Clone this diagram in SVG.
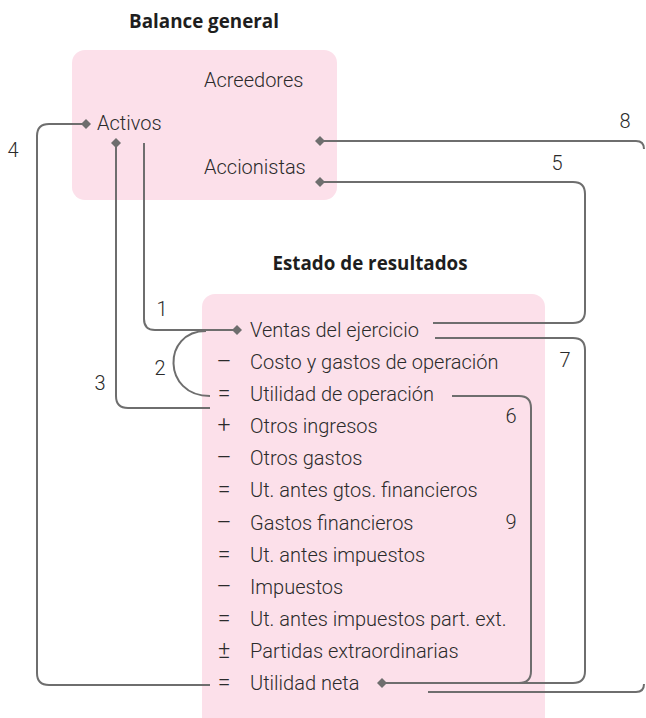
<svg xmlns="http://www.w3.org/2000/svg" width="646" height="718" viewBox="0 0 646 718">
<style>
.box{fill:#fce0ea}
.t{font-family:Roboto,"Liberation Sans",sans-serif;font-weight:300;font-size:20px;fill:#2b2b2b}
.h{font-family:"Open Sans","Liberation Sans",sans-serif;font-weight:700;font-size:18.8px;fill:#1e1e1e}
.op{text-anchor:middle;font-size:23px}
.c{fill:none;stroke:#6e6e6e;stroke-width:2}
.d{fill:#6e6e6e}
</style>
<defs>
<path id="dm" d="M0,-5 L5,0 L0,5 L-5,0 Z"/>
</defs>
<rect width="646" height="718" fill="#fff"/>
<g id="balance">
<text class="h" x="204" y="28" text-anchor="middle">Balance general</text>
<rect class="box" x="72" y="50" width="265" height="150" rx="13"/>
<text class="t" x="204" y="87">Acreedores</text>
<text class="t" x="97" y="130">Activos</text>
<text class="t" x="204" y="174">Accionistas</text>
</g>
<g id="resultados">
<text class="h" x="370" y="270" text-anchor="middle">Estado de resultados</text>
<rect class="box" x="202" y="294" width="343" height="436" rx="13"/>
<text class="t" x="250" y="337">Ventas del ejercicio</text>
<text class="t op" x="224" y="369">–</text><text class="t" x="250" y="369">Costo y gastos de operación</text>
<text class="t op" x="224" y="401">=</text><text class="t" x="250" y="401">Utilidad de operación</text>
<text class="t op" x="224" y="433">+</text><text class="t" x="250" y="433">Otros ingresos</text>
<text class="t op" x="224" y="465">–</text><text class="t" x="250" y="465">Otros gastos</text>
<text class="t op" x="224" y="497">=</text><text class="t" x="250" y="497">Ut. antes gtos. financieros</text>
<text class="t op" x="224" y="530">–</text><text class="t" x="250" y="530">Gastos financieros</text>
<text class="t op" x="224" y="562">=</text><text class="t" x="250" y="562">Ut. antes impuestos</text>
<text class="t op" x="224" y="594">–</text><text class="t" x="250" y="594">Impuestos</text>
<text class="t op" x="224" y="626">=</text><text class="t" x="250" y="626">Ut. antes impuestos part. ext.</text>
<text class="t op" x="224" y="658">±</text><text class="t" x="250" y="658">Partidas extraordinarias</text>
<text class="t op" x="224" y="690">=</text><text class="t" x="250" y="690">Utilidad neta</text>
</g>
<g id="connectors">
<path class="c" d="M86,124 H49 Q37,124 37,136 V673 Q37,685 49,685 H210"/>
<path class="c" d="M116,143 V396 Q116,408 128,408 H210"/>
<path class="c" d="M144,143 V319 Q144,330 155,330 H237"/>
<path class="c" d="M206,331 C162,331 162,396 210,396"/>
<path class="c" d="M320,182 H573 Q585,182 585,194 V311 Q585,323 573,323 H433"/>
<path class="c" d="M320,141 H636 Q644,141 644,149"/>
<path class="c" d="M644,684 Q644,692 636,692 H428"/>
<path class="c" d="M435,338 H573 Q585,338 585,350 V671 Q585,683 573,683 H382"/>
<path class="c" d="M452,396 H519 Q531,396 531,408 V671 Q531,683 519,683"/>
<use href="#dm" class="d" x="86" y="124"/>
<use href="#dm" class="d" x="116" y="143"/>
<use href="#dm" class="d" x="320" y="141"/>
<use href="#dm" class="d" x="320" y="182"/>
<use href="#dm" class="d" x="237" y="330"/>
<use href="#dm" class="d" x="382" y="683"/>
<text class="t" x="13" y="157" text-anchor="middle">4</text>
<text class="t" x="162" y="316" text-anchor="middle">1</text>
<text class="t" x="160" y="375" text-anchor="middle">2</text>
<text class="t" x="100" y="390" text-anchor="middle">3</text>
<text class="t" x="557" y="170" text-anchor="middle">5</text>
<text class="t" x="625" y="128" text-anchor="middle">8</text>
<text class="t" x="565" y="367" text-anchor="middle">7</text>
<text class="t" x="511" y="423" text-anchor="middle">6</text>
<text class="t" x="511" y="529" text-anchor="middle">9</text>
</g>
</svg>
